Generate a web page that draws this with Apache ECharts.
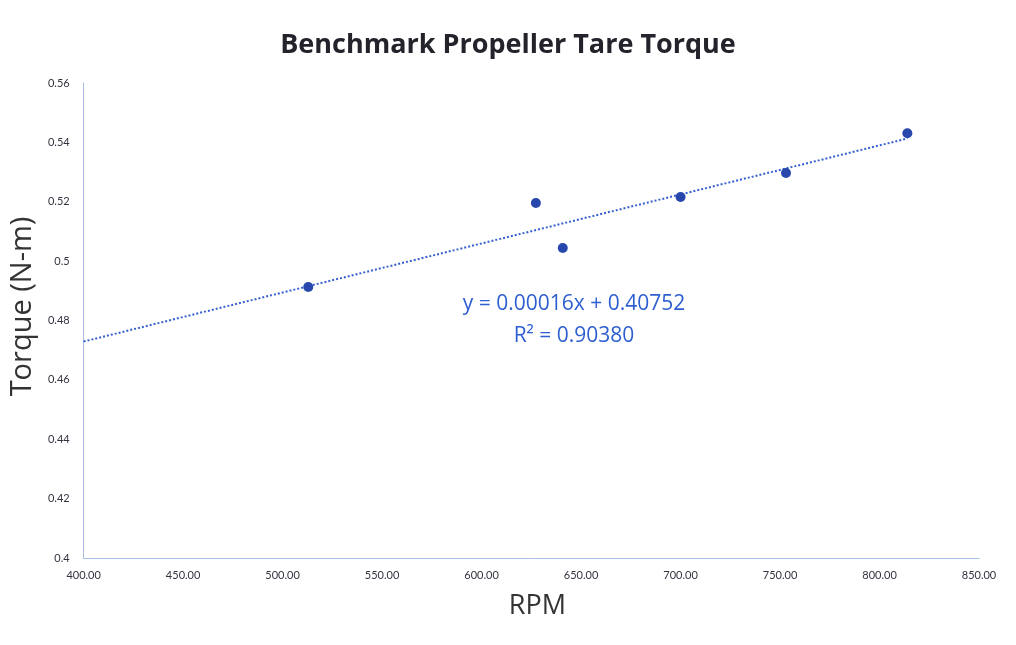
<!DOCTYPE html>
<html>
<head>
<meta charset="utf-8">
<script src="https://cdn.jsdelivr.net/npm/echarts@6/dist/echarts.min.js"></script>
<style>html,body{margin:0;padding:0;background:#fff;}#c{width:1016px;height:645px;}</style>
</head>
<body>
<div id="c"></div>
<script>
const rpm = [512.9, 627.3, 640.8, 700.0, 753.0, 814.0];
const torque = [0.4913, 0.5196, 0.5044, 0.5216, 0.5297, 0.5431];
const equationText = 'y = 0.00016x + 0.40752';
const r2Text = 'R² = 0.90380';

// least-squares trend line from the data
const n = rpm.length;
const mx = rpm.reduce((a, b) => a + b, 0) / n;
const my = torque.reduce((a, b) => a + b, 0) / n;
let sxy = 0, sxx = 0;
for (let i = 0; i < n; i++) { sxy += (rpm[i] - mx) * (torque[i] - my); sxx += (rpm[i] - mx) ** 2; }
const slope = sxy / sxx, intercept = my - slope * mx;
const trendX = [400, Math.max(...rpm)];
const trend = trendX.map(x => [x, intercept + slope * x]);

const font = 'Lato, "Open Sans", sans-serif';
const bigFont = '"Open Sans", Lato, sans-serif';
const chart = echarts.init(document.getElementById('c'));
chart.setOption({
  backgroundColor: '#fff',
  title: {
    text: 'Benchmark Propeller Tare Torque', left: 'center', top: 27,
    textStyle: { fontFamily: bigFont, fontSize: 27, fontWeight: 'bold', color: '#23232b' }
  },
  grid: { left: 82, right: 37, top: 83, bottom: 87 },
  xAxis: {
    type: 'value', min: 400, max: 850, interval: 50,
    name: 'RPM', nameLocation: 'middle', nameGap: 35,
    nameTextStyle: { fontFamily: bigFont, fontSize: 27, color: '#333', padding: [0, 0, 0, 12] },
    axisLine: { lineStyle: { color: '#a9bce6' } },
    axisTick: { show: false },
    splitLine: { show: false },
    axisLabel: { fontFamily: font, fontSize: 11, color: '#333340', margin: 12, formatter: v => v.toFixed(2) }
  },
  yAxis: {
    type: 'value', min: 0.4, max: 0.56, interval: 0.02,
    name: 'Torque (N-m)', nameLocation: 'middle', nameGap: 44,
    nameTextStyle: { fontFamily: bigFont, fontSize: 29, color: '#333', padding: [0, 0, 0, 28] },
    axisLine: { show: true, lineStyle: { color: '#a9bce6' } },
    axisTick: { show: false },
    splitLine: { show: false },
    axisLabel: { fontFamily: font, fontSize: 11, color: '#333340', margin: 14, formatter: v => String(+v.toFixed(2)) }
  },
  series: [
    {
      type: 'line', data: trend, showSymbol: false, silent: true,
      lineStyle: { color: '#3560d0', width: 2, type: [2, 2] }, z: 1
    },
    {
      type: 'scatter', data: rpm.map((x, i) => [x, torque[i]]),
      symbolSize: 10, itemStyle: { color: '#2747ad', opacity: 1 }, z: 2
    }
  ],
  graphic: [
    { type: 'text', x: 574, y: 304, style: { text: equationText, textAlign: 'center', textVerticalAlign: 'middle', fontFamily: bigFont, fontSize: 21, fill: '#2e5fd0' } },
    { type: 'text', x: 574, y: 336, style: { text: r2Text, textAlign: 'center', textVerticalAlign: 'middle', fontFamily: bigFont, fontSize: 21, fill: '#2e5fd0' } }
  ]
});
</script>
</body>
</html>
